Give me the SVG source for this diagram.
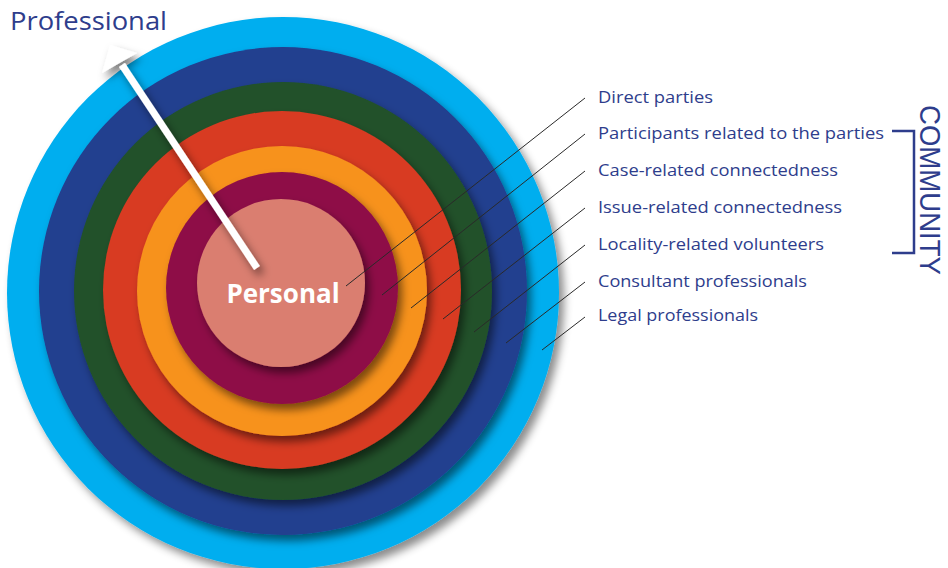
<svg xmlns="http://www.w3.org/2000/svg" width="948" height="568" viewBox="0 0 948 568">
<defs>
<style>
.lbl{font-family:"Open Sans","Liberation Sans",Arial,sans-serif;font-size:17px;fill:#2E3D8C}
.lead{stroke:#2a2a2a;stroke-width:1;fill:none}
</style>
<filter id="sh" x="-20%" y="-20%" width="150%" height="150%">
<feDropShadow dx="4" dy="6" stdDeviation="4" flood-color="#000" flood-opacity="0.5"/>
</filter>
<filter id="sh2" x="-20%" y="-20%" width="150%" height="150%">
<feDropShadow dx="5" dy="6" stdDeviation="4" flood-color="#000" flood-opacity="0.45"/>
</filter>
</defs>
<rect width="948" height="568" fill="#fff"/>
<g id="ring-legal"><circle cx="283" cy="293" r="276" fill="#00AEEF" filter="url(#sh2)"/></g>
<g id="ring-consultant"><circle cx="283" cy="291" r="244" fill="#243F8F" filter="url(#sh)"/></g>
<g id="ring-locality"><circle cx="283" cy="291" r="209" fill="#20512B" filter="url(#sh)"/></g>
<g id="ring-issue"><circle cx="282" cy="290" r="179" fill="#D83B22" filter="url(#sh)"/></g>
<g id="ring-case"><circle cx="282" cy="291" r="145" fill="#F7921E" filter="url(#sh)"/></g>
<g id="ring-participants"><circle cx="282" cy="288" r="116" fill="#8E0B47" filter="url(#sh)"/></g>
<g id="personal"><circle cx="281" cy="283" r="84" fill="#DA7E70" filter="url(#sh)"/>
<text x="283" y="303" text-anchor="middle" font-family="'Open Sans','Liberation Sans',sans-serif" font-weight="bold" font-size="26" fill="#fff">Personal</text></g>
<g id="arrow" filter="url(#sh)">
<line x1="257" y1="268" x2="122" y2="65" stroke="#fff" stroke-width="7"/>
<polygon points="110,45 102,73 137,53" fill="#fff"/>
</g>
<g id="professional"><text x="10" y="30" font-family="'Open Sans','Liberation Sans',sans-serif" font-size="26" fill="#2E3D8C" textLength="157" lengthAdjust="spacingAndGlyphs">Professional</text></g>
<g id="connectors">
<line class="lead" x1="585" y1="98" x2="346" y2="286"/>
<line class="lead" x1="585" y1="134" x2="382" y2="295"/>
<line class="lead" x1="585" y1="171" x2="411" y2="308"/>
<line class="lead" x1="585" y1="208" x2="443" y2="319"/>
<line class="lead" x1="585" y1="245" x2="474" y2="332"/>
<line class="lead" x1="585" y1="282" x2="506" y2="343"/>
<line class="lead" x1="585" y1="317" x2="542" y2="350"/>
</g>
<g id="labels">
<text class="lbl" x="598" y="103" textLength="115" lengthAdjust="spacingAndGlyphs">Direct parties</text>
<text class="lbl" x="598" y="139" textLength="286" lengthAdjust="spacingAndGlyphs">Participants related to the parties</text>
<text class="lbl" x="598" y="176" textLength="240" lengthAdjust="spacingAndGlyphs">Case-related connectedness</text>
<text class="lbl" x="598" y="213" textLength="244" lengthAdjust="spacingAndGlyphs">Issue-related connectedness</text>
<text class="lbl" x="598" y="250" textLength="226" lengthAdjust="spacingAndGlyphs">Locality-related volunteers</text>
<text class="lbl" x="598" y="287" textLength="209" lengthAdjust="spacingAndGlyphs">Consultant professionals</text>
<text class="lbl" x="598" y="321" textLength="160" lengthAdjust="spacingAndGlyphs">Legal professionals</text>
</g>
<g id="community">
<path d="M892,131 H914 V253 H892" fill="none" stroke="#2E3D8C" stroke-width="2.5"/>
<text transform="translate(920,105) rotate(90)" font-family="'Liberation Sans',sans-serif" font-size="29" fill="#2E3D8C" textLength="170" lengthAdjust="spacingAndGlyphs">COMMUNITY</text>
</g>
</svg>
